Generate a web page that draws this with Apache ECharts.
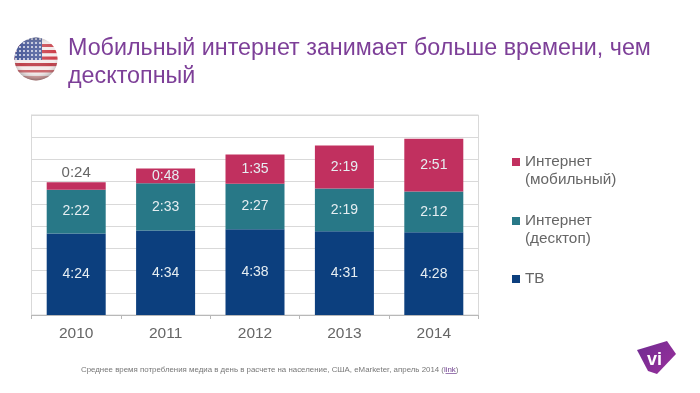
<!DOCTYPE html>
<html><head><meta charset="utf-8">
<style>html,body{margin:0;padding:0;background:#fff}#c{width:700px;height:393px}</style>
<script src="https://cdn.jsdelivr.net/npm/echarts@6/dist/echarts.min.js"></script>
</head><body><div id="c"></div>
<script>
const years = ['2010','2011','2012','2013','2014'];
const tvMinutes = [264,274,278,271,268];
const desktopMinutes = [142,153,147,139,132];
const mobileMinutes = [24,48,95,139,171];
const titleLines = 'Мобильный интернет занимает больше времени, чем\nдесктопный';
const tvName = 'ТВ', desktopName = 'Интернет\n(десктоп)', mobileName = 'Интернет\n(мобильный)';
const font = '"Liberation Sans", Arial, sans-serif';
const fmt = m => Math.floor(m/60) + ':' + String(m%60).padStart(2,'0');

const flagSvg = `<svg xmlns="http://www.w3.org/2000/svg" width="46" height="46" viewBox="-1 -1 46 46">
<defs><clipPath id="k"><circle cx="22" cy="22" r="21.5"/></clipPath>
<radialGradient id="g" cx="50%" cy="36%" r="62%"><stop offset="0" stop-color="#fff" stop-opacity=".22"/><stop offset=".72" stop-color="#fff" stop-opacity=".08"/><stop offset="1" stop-color="#333" stop-opacity=".4"/></radialGradient>
<linearGradient id="s" x1="0" y1="0" x2="0" y2="1"><stop offset="0" stop-color="#223" stop-opacity=".35"/><stop offset=".18" stop-color="#fff" stop-opacity="0"/></linearGradient>
<pattern id="d" width="4" height="4" patternUnits="userSpaceOnUse"><rect width="4" height="4" fill="#3a4c90"/><circle cx="2" cy="2" r="1" fill="#e8e8f2"/></pattern>
<filter id="b" x="-5%" y="-5%" width="110%" height="110%"><feGaussianBlur stdDeviation=".6"/></filter></defs>
<g filter="url(#b)"><g clip-path="url(#k)"><rect width="44" height="44" fill="#f3eaea"/>
<rect y="7" width="44" height="3" fill="#c8404a"/><rect y="13" width="44" height="3.2" fill="#c8303c"/><rect y="19.5" width="44" height="3.2" fill="#c8303c"/><rect y="26" width="44" height="3.2" fill="#b8303c"/><rect y="33" width="44" height="2.5" fill="#c85a60"/><rect y="39" width="44" height="5" fill="#d89a9a"/>
<rect width="28" height="23" fill="url(#d)"/><rect width="44" height="44" fill="url(#s)"/><rect width="44" height="44" fill="url(#g)"/></g></g></svg>`;

const labelStyle = {show:true, position:'inside', color:'#e6eef2', fontSize:14, fontFamily:font, formatter:p=>fmt(p.value)};
const barSeries = (name, values, color, extra) => ({
  name, type:'bar', stack:'t', barWidth:59, data:values,
  itemStyle:{color}, label:labelStyle, emphasis:{disabled:true}, ...extra
});
const chart = echarts.init(document.getElementById('c'), null, {renderer:'canvas'});
chart.setOption({
  animation:false, backgroundColor:'#fff',
  title:{text:titleLines, left:68, top:35, padding:0, textStyle:{color:'#7d3f98', fontSize:23.3, fontWeight:'normal', fontFamily:font, lineHeight:28}},
  grid:{left:31.5, right:221.5, top:115, height:200, show:true, borderColor:'#d9d9d9', borderWidth:1, backgroundColor:'#fff'},
  xAxis:{type:'category', data:years, axisLine:{lineStyle:{color:'#b8b8b8'}}, axisTick:{show:true, length:4, lineStyle:{color:'#b8b8b8'}},
    axisLabel:{color:'#666', fontSize:15.5, fontFamily:font, margin:11}},
  yAxis:{type:'value', min:0, max:648, interval:72, axisLabel:{show:false}, axisTick:{show:false},
    axisLine:{show:true, lineStyle:{color:'#d9d9d9'}}, splitLine:{lineStyle:{color:'#d9d9d9'}}},
  legend:[
    {orient:'vertical', left:507, top:148, itemWidth:8, itemHeight:26, itemGap:23, selectedMode:false,
     textStyle:{color:'#666', fontSize:15.3, fontFamily:font, lineHeight:18},
     data:[{name:mobileName, icon:'path://M0 0H8V8H0Z M0 26L0 26'},{name:desktopName, icon:'path://M0 0H8V8H0Z M0 26L0 26'}]},
    {orient:'vertical', left:507, top:261, itemWidth:8, itemHeight:26, selectedMode:false,
     textStyle:{color:'#666', fontSize:15.3, fontFamily:font, lineHeight:18},
     data:[{name:tvName, icon:'path://M0 9H8V17H0Z M0 0L0 0 M0 26L0 26'}]}
  ],
  series:[
    barSeries(tvName, tvMinutes, '#0c3f7e'),
    barSeries(desktopName, desktopMinutes, '#287887'),
    barSeries(mobileName, mobileMinutes.map((v,i)=> i===0 ? {value:v, label:{position:'top', color:'#666', fontSize:15, distance:2}} : v), '#c1305f',
      {label:{...labelStyle, formatter:p=>fmt(typeof p.value==='number'?p.value:p.value.value)}})
  ],
  graphic:[
    {type:'image', left:13, top:36, style:{image:'data:image/svg+xml;charset=utf-8,'+encodeURIComponent(flagSvg), width:46, height:46}},
    {type:'polygon', shape:{points:[[637,350],[667,341],[676,354],[657,374],[648,371]]},
      style:{fill:new echarts.graphic.LinearGradient(0,0,1,1,[{offset:0,color:'#6f2c91'},{offset:1,color:'#9a2f9c'}])}},
    {type:'text', left:647, top:351, style:{text:'vi', fill:'#fff', fontSize:18, fontWeight:'bold', fontFamily:font}},
    {type:'text', left:81, top:366, style:{
      rich:{u:{fill:'#6f3f8f', fontSize:7.88, fontFamily:font}, t:{fill:'#777', fontSize:7.88, fontFamily:font}},
      text:'{t|Среднее время потребления медиа в день в расчете на население, США, eMarketer, апрель 2014 (}{u|link}{t|)}'}},
    {type:'line', shape:{x1:445.5,y1:373.5,x2:456,y2:373.5}, style:{stroke:'#6f3f8f', lineWidth:.7}}
  ]
});
</script></body></html>
